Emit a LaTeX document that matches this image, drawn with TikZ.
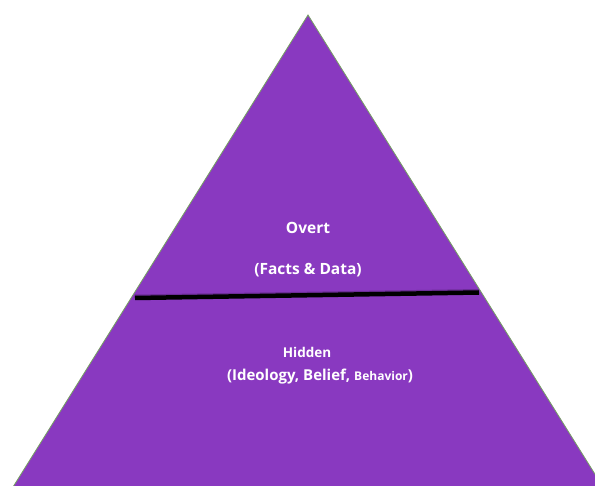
\documentclass[tikz,border=0pt]{standalone}
\usepackage{fontspec}
\setmainfont{Open Sans}
\definecolor{pyr}{RGB}{137,57,192}
\definecolor{edge}{RGB}{120,160,100}
\tikzset{lbl/.style={text=white,font=\bfseries\fontsize{15.5}{18}\selectfont,inner sep=0pt}}
\begin{document}
\begin{tikzpicture}[x=1pt,y=-1pt]
\useasboundingbox (0,0) rectangle (595,486);
\begin{scope}
\clip (0,0) rectangle (595,486);
\coordinate (apex) at (308,15);
\coordinate (bl) at (13,487);
\coordinate (br) at (603,487);
\fill[pyr,draw=edge,line width=0.8pt] (apex) -- (bl) -- (br) -- cycle;
\coordinate (la) at (135,298);
\coordinate (lb) at (479,292.5);
\draw[black!40!pyr,line width=3pt,opacity=0.5] ([yshift=2pt]la) -- ([yshift=2pt]lb);
\draw[black,line width=4.5pt] (la) -- (lb);
\end{scope}
\node[lbl] (overt) at (308,228) {Overt};
\node[lbl] (facts) at (308,270) {(Facts \& Data)};
\node[lbl,font=\bfseries\fontsize{13.5}{16}\selectfont] (hidden) at (307,352) {Hidden};
\node[lbl,font=\bfseries\fontsize{15}{18}\selectfont] (ideo) at (320,377) {(Ideology, Belief, {\fontsize{12}{14}\selectfont Behavior})};
\end{tikzpicture}
\end{document}
